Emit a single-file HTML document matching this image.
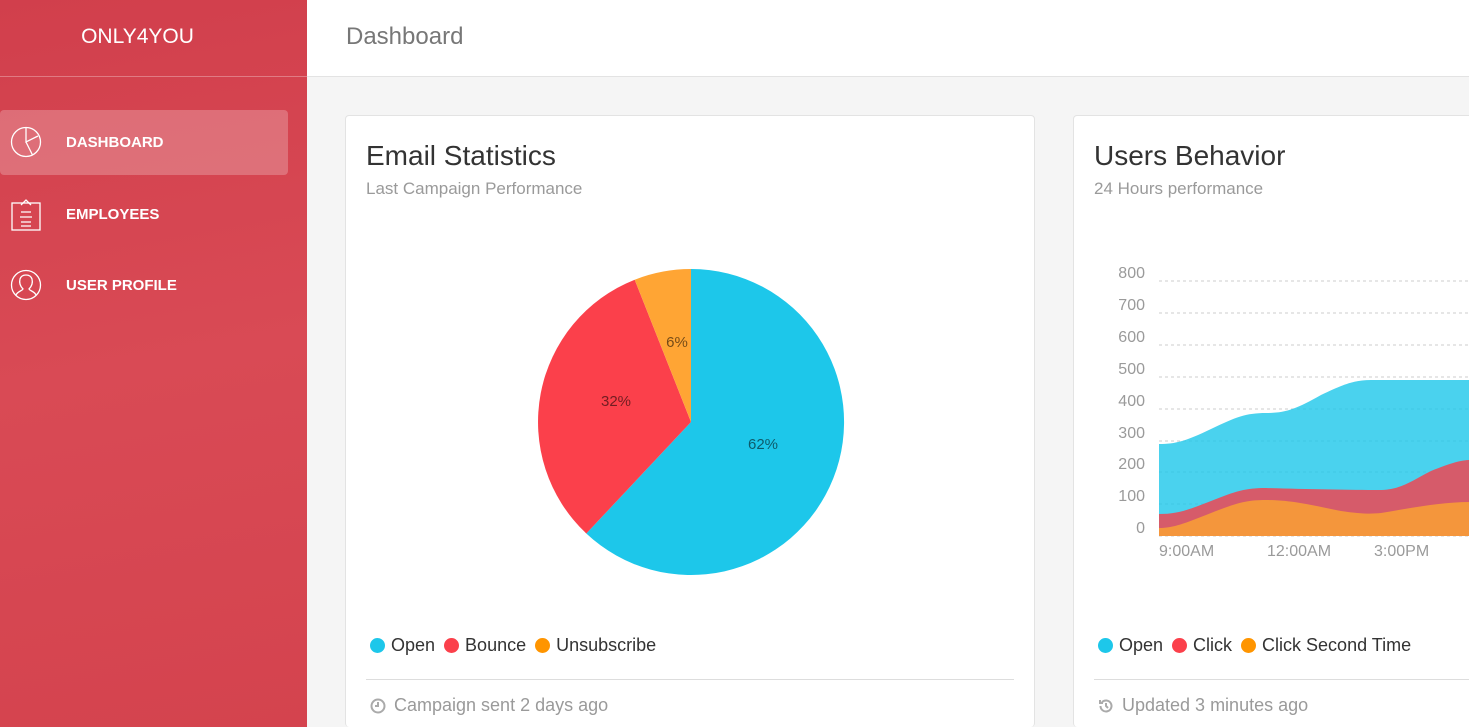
<!DOCTYPE html>
<html style="width:1469px;height:727px;overflow:hidden"><head><style>
*{margin:0;padding:0;box-sizing:border-box}
body{width:1469px;height:727px;overflow:hidden;font-family:"Liberation Sans",sans-serif;background:#f5f5f5;position:relative}
.sb{position:absolute;left:0;top:0;width:307px;height:727px;background:linear-gradient(170deg,#d13f4c 0%,#d94a55 50%,#d4434e 100%)}
.logo{position:absolute;left:0;top:0;height:77px;text-align:center;line-height:74px;color:#fff;font-size:21px;border-bottom:1px solid rgba(255,255,255,.3);width:307px;padding-right:32px}
.nav{position:absolute;left:0;width:288px;height:65px;color:#fff;font-weight:bold;font-size:15px;line-height:65px;padding-left:66px}
.nav svg{position:absolute;left:10px;top:16px}
.act{background:rgba(255,255,255,.23);border-radius:4px}
.top{position:absolute;left:307px;top:0;right:0;height:77px;background:#fff;border-bottom:1px solid #e3e3e3}
.top span{position:absolute;left:39px;top:23px;font-size:24px;color:#777}
.card{position:absolute;top:115px;background:#fff;border:1px solid #e3e3e3;border-radius:4px;height:612px;border-bottom:none}
.t{position:absolute;left:20px;top:24px;font-size:28px;color:#333}
.s{position:absolute;left:20px;top:63px;font-size:17px;color:#9a9a9a}
.lg{position:absolute;left:24px;top:519px;font-size:18px;color:#333}
.d{display:inline-block;width:15px;height:15px;border-radius:50%;vertical-align:-2px;margin-right:6px}
.hr{position:absolute;left:20px;right:20px;top:563px;border-top:1px solid #ddd}
.ft{position:absolute;left:48px;top:579px;font-size:18px;color:#9a9a9a}
.ic{position:absolute;left:24px;top:582px}
</style></head><body>
<div class="sb">
<div class="logo">ONLY4YOU</div>
<div class="nav act" style="top:110px"><svg width="32" height="32" viewBox="0 0 32 32" fill="none" stroke="#fff" stroke-width="1.3"><circle cx="16" cy="16" r="14.5"/><path d="M16 1.5V16L28 10M16 16L22.5 29"/></svg>DASHBOARD</div>
<div class="nav" style="top:182px"><svg width="32" height="34" viewBox="0 0 32 34" fill="none" stroke="#fff" stroke-width="1.3"><rect x="2" y="5" width="28" height="27"/><path d="M11 7l5-5 5 5M11 14h10M10 19h12M11 24h10M11 28h10"/></svg>EMPLOYEES</div>
<div class="nav" style="top:253px"><svg width="32" height="32" viewBox="0 0 32 32" fill="none" stroke="#fff" stroke-width="1.3"><circle cx="16" cy="16" r="14.5"/><path d="M6 26c2-4 6-4 7-6-3-3-4-6-3-10 1-3 3-4 6-4s5 1 6 4c1 4 0 7-3 10 1 2 5 2 7 6"/></svg>USER PROFILE</div>
</div>
<div class="top"><span>Dashboard</span></div>

<div class="card" style="left:345px;width:690px">
<div class="t">Email Statistics</div>
<div class="s">Last Campaign Performance</div>
<svg style="position:absolute;left:-345px;top:-115px" width="1000" height="700">
<path d="M690 421L690 268A153 153 0 1 1 585.3 532.5Z" fill="#1DC7EA"/>
<path d="M690 421L585.3 532.5A153 153 0 0 1 633.7 278.7Z" fill="#FB404B"/>
<path d="M690 421L633.7 278.7A153 153 0 0 1 690 268Z" fill="#FFA534"/>
<g font-family="Liberation Sans" font-size="15" fill="rgba(0,0,0,.55)" text-anchor="middle">
<text x="762" y="448">62%</text><text x="615" y="405">32%</text><text x="676" y="346">6%</text></g>
</svg>
<div class="lg"><span class="d" style="background:#1DC7EA"></span>Open <span class="d" style="background:#FB404B;margin-left:4px"></span>Bounce <span class="d" style="background:#FF9500;margin-left:4px"></span>Unsubscribe</div>
<div class="hr"></div>
<svg class="ic" width="16" height="16" viewBox="0 0 16 16" fill="none" stroke="#aaa" stroke-width="2"><circle cx="8" cy="8" r="6.5"/><path d="M8 4v4H5"/></svg>
<div class="ft">Campaign sent 2 days ago</div>
</div>

<div class="card" style="left:1073px;width:420px">
<div class="t">Users Behavior</div>
<div class="s">24 Hours performance</div>
<svg style="position:absolute;left:-1073px;top:-115px" width="1469" height="700">
<g stroke="#ccc" stroke-dasharray="3 3" stroke-width="1">
<path d="M1158 280H1469M1158 312H1469M1158 344H1469M1158 376H1469M1158 408H1469M1158 440H1469M1158 471H1469M1158 503H1469M1158 535H1469"/></g>
<path d="M1158 443C1175 443 1185 440 1210 428C1235 416 1245 412 1265 412C1285 412 1295 408 1320 394C1345 382 1355 379 1370 379L1469 379V535H1158Z" fill="#1DC7EA" fill-opacity=".8"/>
<path d="M1158 513C1175 513 1185 510 1210 500C1235 490 1245 487 1265 487C1300 488 1350 489 1378 489C1400 489 1410 480 1430 470C1450 462 1460 459 1469 459V535H1158Z" fill="#d65b6a"/>
<path d="M1158 527C1170 527 1180 524 1205 514C1235 502 1245 499 1265 499C1290 499 1310 504 1340 510C1360 513 1370 513 1380 512C1410 507 1440 501 1469 501V535H1158Z" fill="#f4963c"/>
<g font-family="Liberation Sans" font-size="16" fill="#9a9a9a" text-anchor="end">
<text x="1144" y="277">800</text><text x="1144" y="309">700</text><text x="1144" y="341">600</text><text x="1144" y="373">500</text><text x="1144" y="405">400</text><text x="1144" y="437">300</text><text x="1144" y="468">200</text><text x="1144" y="500">100</text><text x="1144" y="532">0</text></g>
<g font-family="Liberation Sans" font-size="16" fill="#9a9a9a">
<text x="1158" y="555">9:00AM</text><text x="1266" y="555">12:00AM</text><text x="1373" y="555">3:00PM</text></g>
</svg>
<div class="lg"><span class="d" style="background:#1DC7EA"></span>Open <span class="d" style="background:#FB404B;margin-left:4px"></span>Click <span class="d" style="background:#FF9500;margin-left:4px"></span>Click Second Time</div>
<div class="hr"></div>
<svg class="ic" width="16" height="16" viewBox="0 0 16 16" fill="none" stroke="#aaa" stroke-width="2"><path d="M2.5 8A5.5 5.5 0 1 0 4 4.2M2 2v3h3M8 5v3l2 2"/></svg>
<div class="ft">Updated 3 minutes ago</div>
</div>
</body></html>
